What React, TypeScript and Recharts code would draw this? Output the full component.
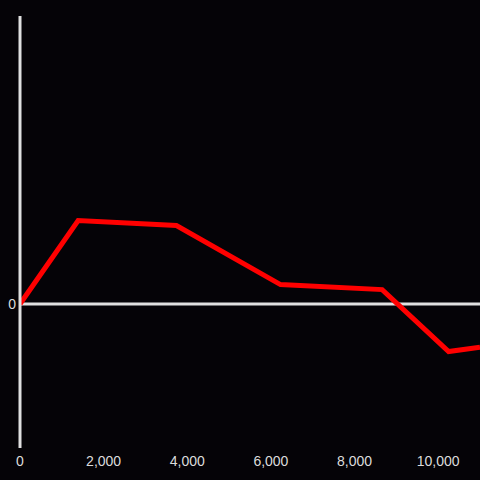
import { LineChart, Line, XAxis, YAxis, ReferenceLine } from "recharts";

const xValues = [0, 1390, 3740, 6230, 8660, 10250, 11000];
const yValues = [0, 0.58, 0.545, 0.135, 0.1, -0.33, -0.3];
const xTicks = [0, 2000, 4000, 6000, 8000, 10000];
const yTicks = [0];

const data = xValues.map((x, i) => ({ x, y: yValues[i] }));

export default function App() {
  return (
    <div
      style={{
        position: "absolute",
        left: 0,
        top: 0,
        width: 480,
        height: 480,
        background: "#050307",
        overflow: "hidden",
      }}
    >
      <LineChart
        width={480}
        height={480}
        data={data}
        margin={{ top: 16, right: 0, left: 0, bottom: 0 }}
        style={{ fontFamily: "'Liberation Sans', Arial, sans-serif" }}
      >
        <XAxis
          dataKey="x"
          type="number"
          domain={[0, 11000]}
          ticks={xTicks}
          allowDataOverflow
          height={32}
          axisLine={false}
          tickLine={false}
          tick={{ fill: "#dcdcdc", fontSize: 14 }}
          tickFormatter={(v: any) => Number(v).toLocaleString("en-US")}
        />
        <YAxis
          type="number"
          domain={[-1, 2]}
          ticks={yTicks}
          width={20}
          axisLine={{ stroke: "#e0e0e0", strokeWidth: 3 }}
          tickLine={false}
          tickSize={0}
          tickMargin={4}
          tick={{ fill: "#dcdcdc", fontSize: 14 }}
        />
        <ReferenceLine y={0} stroke="#e0e0e0" strokeWidth={3} />
        <Line
          type="linear"
          dataKey="y"
          stroke="#ff0000"
          strokeWidth={5}
          dot={false}
          activeDot={false}
          isAnimationActive={false}
        />
      </LineChart>
    </div>
  );
}
